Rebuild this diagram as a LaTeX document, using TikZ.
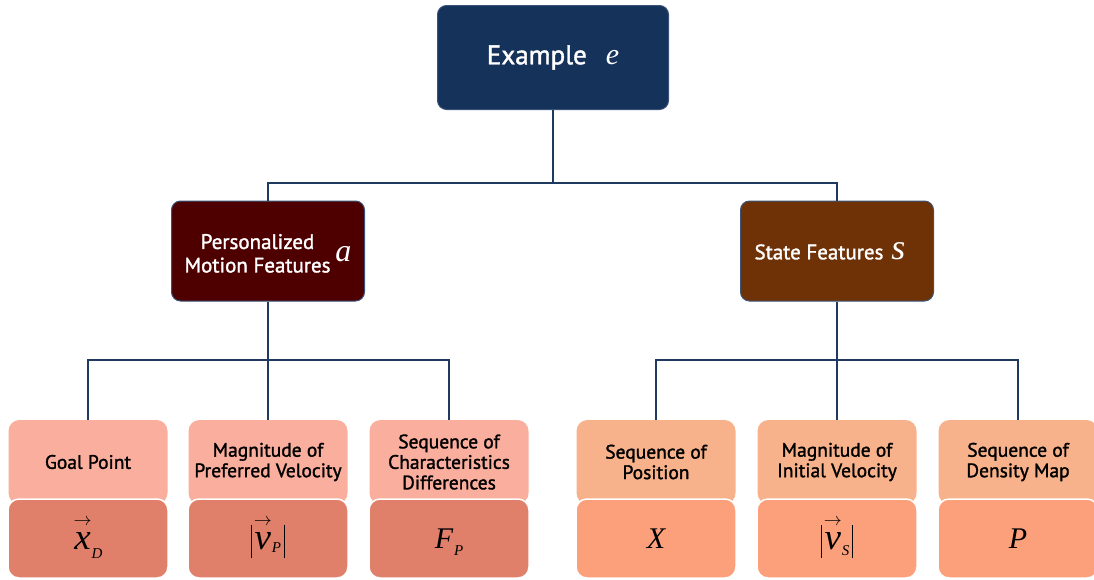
\documentclass[tikz,border=0pt]{standalone}
\usepackage{fontspec}
\setmainfont{PT Sans}[FakeBold=1.5]
\newfontfamily\tms{Liberation Serif}

\definecolor{navybox}{HTML}{14325A}
\definecolor{maroonbox}{HTML}{4E0000}
\definecolor{brownbox}{HTML}{6F3106}
\definecolor{pinktop}{HTML}{FAAE9D}
\definecolor{pinkbot}{HTML}{E0806B}
\definecolor{peachtop}{HTML}{F8B28B}
\definecolor{peachbot}{HTML}{FCA07B}
\definecolor{linkblue}{HTML}{1F3A5F}
\definecolor{edgeblue}{HTML}{3A5378}

% italic serif symbol at a given size
\newcommand\mi[2]{{\fontsize{#1}{#1}\selectfont\tms\itshape #2}}
% lowered subscript letter (with and without its own depth)
\newcommand\subl[2]{\raisebox{-#1}{\mi{15}{#2}}}
\newcommand\subz[2]{\raisebox{-#1}[0pt][0pt]{\mi{15}{#2}}}
% small arrow set well above a letter
\newcommand\vecover[1]{\vbox{\offinterlineskip\halign{\hfil##\hfil\cr
  \resizebox{18pt}{!}{$\rightarrow$}\cr\noalign{\kern7pt}#1\cr}}}
% tall magnitude bar
\newcommand\magbar{\rule[-8pt]{0.9pt}{33pt}}
% shift a label down without changing its box
\newcommand\lowered[2]{\raisebox{-#1}[\height][\depth]{#2}}

\begin{document}
\begin{tikzpicture}[x=1pt,y=-1pt,
  box/.style={rectangle, inner sep=0pt, align=center},
  headbox/.style={box, rounded corners=9pt, fill=navybox, draw=edgeblue, line width=1pt,
    text=white, minimum width=231pt, minimum height=104pt,
    font=\fontsize{27}{32}\selectfont},
  groupbox/.style={box, rounded corners=9pt, draw=edgeblue, line width=1pt, text=white,
    minimum width=193pt, minimum height=100pt, font=\fontsize{21}{23.5}\selectfont},
  leaftop/.style={box, rounded corners=11pt, minimum width=159pt, minimum height=84pt,
    text=black, font=\fontsize{19.5}{20.5}\selectfont},
  leafbot/.style={box, rounded corners=11pt, draw=white, line width=1.5pt,
    minimum width=160pt, minimum height=79pt, text=black},
  link/.style={draw=linkblue, line width=1.8pt}]
\useasboundingbox (0,0) rectangle (1094,579);

% root and the two feature groups
\node[headbox] (ex) at (553,57.5) {Example\hspace{19pt}\mi{30}{e}};
\node[groupbox, fill=maroonbox] (pm) at (268,251)
  {\lowered{5pt}{\begin{tabular}{@{}c@{}}Personalized\\Motion Features\end{tabular}\hspace{5pt}\mi{32}{a}}};
\node[groupbox, fill=brownbox] (sf) at (837,251)
  {State Features\hspace{8pt}\mi{36}{s}\hspace{14pt}};

% personalized motion features
\node[leaftop, fill=pinktop] (gp) at (88,462) {Goal Point};
\node[leaftop, fill=pinktop] (mp) at (268,462) {Magnitude of\\Preferred Velocity};
\node[leaftop, fill=pinktop] (cd) at (449,462) {Sequence of\\Characteristics\\Differences};
\node[leafbot, fill=pinkbot] (gpv) at (88,538.5)
  {\vecover{\mi{37}{x}}\subl{9pt}{D}};
\node[leafbot, fill=pinkbot] (mpv) at (268,538.5)
  {\magbar\hspace{2pt}\vecover{\mi{37}{v}}\subz{3pt}{P}\hspace{3pt}\magbar};
\node[leafbot, fill=pinkbot] (cdv) at (449,538.5)
  {\mi{30}{F}\hspace{1pt}\subz{7pt}{P}};

% state features
\node[leaftop, fill=peachtop] (sp) at (656,462) {Sequence of\\Position};
\node[leaftop, fill=peachtop] (iv) at (837,462) {Magnitude of\\Initial Velocity};
\node[leaftop, fill=peachtop] (dm) at (1018,462) {Sequence of\\Density Map};
\node[leafbot, fill=peachbot] (spv) at (656,538.5) {\mi{30}{X}};
\node[leafbot, fill=peachbot] (ivv) at (837,538.5)
  {\magbar\hspace{2pt}\vecover{\mi{37}{v}}\subz{6pt}{S}\hspace{3pt}\magbar};
\node[leafbot, fill=peachbot] (dmv) at (1018,538.5) {\mi{30}{P}};

% tree connectors
\coordinate (j0) at (553,183);
\coordinate (jl) at (268,360);
\coordinate (jr) at (837,360);
\draw[link] (ex.south) -- (j0);
\draw[link] (pm.north) -- (pm.north |- j0) -- (sf.north |- j0) -- (sf.north);
\draw[link] (pm.south) -- (jl);
\draw[link] (gp.north) -- (gp.north |- jl) -- (cd.north |- jl) -- (cd.north);
\draw[link] (mp.north) -- (mp.north |- jl);
\draw[link] (sf.south) -- (jr);
\draw[link] (sp.north) -- (sp.north |- jr) -- (dm.north |- jr) -- (dm.north);
\draw[link] (iv.north) -- (iv.north |- jr);
\end{tikzpicture}
\end{document}
